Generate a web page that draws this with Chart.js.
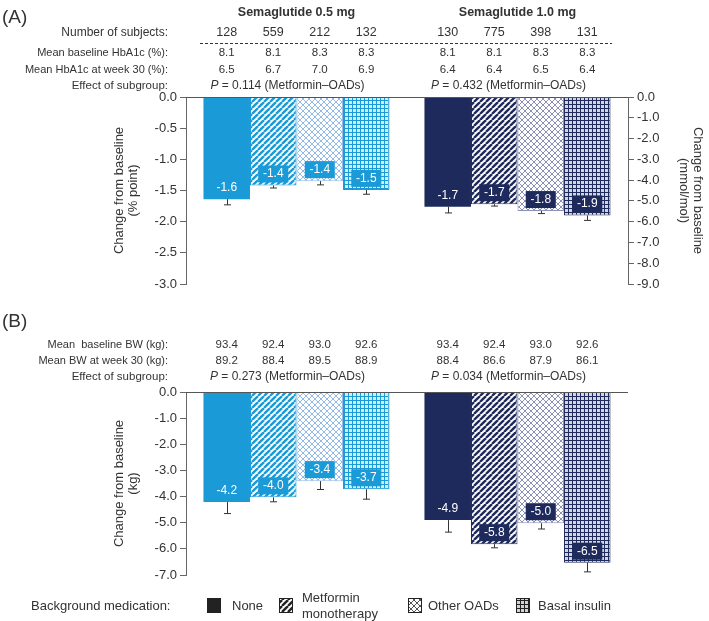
<!DOCTYPE html>
<html>
<head>
<meta charset="utf-8">
<script src="https://cdn.jsdelivr.net/npm/chart.js@4.4.1/dist/chart.umd.min.js"></script>
<style>
  body { margin: 0; background: #fff; }
  #wrap { position: relative; width: 709px; height: 621px; }
  canvas { position: absolute; left: 0; }
</style>
</head>
<body>
<div id="wrap">
  <canvas id="chartA" width="709" height="300" style="top:0"></canvas>
  <canvas id="chartB" width="709" height="321" style="top:300px"></canvas>
</div>
<script>
// bars are ordered: 0.5 mg (None, Metformin, Other OADs, Basal), then 1.0 mg (same order)
var doses = ["Semaglutide 0.5 mg", "Semaglutide 1.0 mg"];
var medications = ["None", "Metformin monotherapy", "Other OADs", "Basal insulin"];

var subjects = ["128", "559", "212", "132", "130", "775", "398", "131"];
var baseHba1c = ["8.1", "8.1", "8.3", "8.3", "8.1", "8.1", "8.3", "8.3"];
var week30Hba1c = ["6.5", "6.7", "7.0", "6.9", "6.4", "6.4", "6.5", "6.4"];
var pHba1c = ["0.114", "0.432"];
var hba1cChange = [-1.64, -1.42, -1.35, -1.49, -1.76, -1.72, -1.83, -1.90];
var hba1cErr = [0.09, 0.04, 0.06, 0.07, 0.10, 0.03, 0.04, 0.08];
var hba1cLabels = ["-1.6", "-1.4", "-1.4", "-1.5", "-1.7", "-1.7", "-1.8", "-1.9"];

var baseBw = ["93.4", "92.4", "93.0", "92.6", "93.4", "92.4", "93.0", "92.6"];
var week30Bw = ["89.2", "88.4", "89.5", "88.9", "88.4", "86.6", "87.9", "86.1"];
var pBw = ["0.273", "0.034"];
var bwChange = [-4.21, -4.03, -3.41, -3.72, -4.90, -5.82, -5.02, -6.53];
var bwErr = [0.44, 0.17, 0.32, 0.38, 0.46, 0.14, 0.22, 0.35];
var bwLabels = ["-4.2", "-4.0", "-3.4", "-3.7", "-4.9", "-5.8", "-5.0", "-6.5"];

var FONT = "'Liberation Sans', Arial, sans-serif";
var BLUE = "#1a9ad6", NAVY = "#1f2a5c";
var LIGHT = { "#1a9ad6": "#93b9e8", "#1f2a5c": "#8a90b6", "#222": "#555" };
var kinds = ["none", "diag", "lattice", "grid"];

Chart.defaults.font.family = FONT;
Chart.defaults.color = "#333";

function makePattern(kind, color) {
  if (kind === "none") return color;
  var s = kind === "grid" ? 4 : kind === "lattice" ? 6 : 6;
  var c = document.createElement("canvas");
  c.width = s; c.height = s;
  var g = c.getContext("2d");
  g.fillStyle = "#fff";
  g.fillRect(0, 0, s, s);
  if (kind === "diag") {
    g.strokeStyle = color;
    g.lineWidth = 2.4;
    for (var k = -1; k <= 1; k++) {
      g.beginPath(); g.moveTo(k * s, s); g.lineTo(k * s + s, 0); g.stroke();
    }
  } else if (kind === "lattice") {
    g.strokeStyle = LIGHT[color];
    g.lineWidth = 1;
    g.beginPath(); g.moveTo(0, 0); g.lineTo(s, s); g.moveTo(0, s); g.lineTo(s, 0); g.stroke();
  } else {
    g.globalAlpha = 0.2;
    g.fillStyle = color;
    g.fillRect(0, 0, s, s);
    g.globalAlpha = 1;
    g.fillStyle = color;
    g.fillRect(0, 0, 1, s);
    g.fillRect(0, 0, s, 1);
  }
  return g.createPattern(c, "repeat");
}

function makeDatasets(values) {
  return medications.map(function (m, i) {
    return {
      label: m,
      data: [values[i], values[i + 4]],
      backgroundColor: [makePattern(kinds[i], BLUE), makePattern(kinds[i], NAVY)],
      borderColor: kinds[i] === "lattice" ? [LIGHT[BLUE], LIGHT[NAVY]] : [BLUE, NAVY],
      borderWidth: kinds[i] === "none" ? 0 : 1,
      categoryPercentage: 0.842,
      barPercentage: 1
    };
  });
}

function barAt(chart, k) {
  return chart.getDatasetMeta(k % 4).data[Math.floor(k / 4)];
}

function text(ctx, str, x, y, size, align, style, color) {
  ctx.font = (style || "") + " " + size + "px " + FONT;
  ctx.textAlign = align;
  ctx.textBaseline = "middle";
  ctx.fillStyle = color || "#333";
  ctx.fillText(str, x, y);
}

function pValue(ctx, p, cx, y) {
  var rest = " = " + p + " (Metformin\u2013OADs)";
  ctx.font = "italic 12px " + FONT;
  var w1 = ctx.measureText("P").width;
  ctx.font = "12px " + FONT;
  var w2 = ctx.measureText(rest).width;
  var x0 = cx - (w1 + w2) / 2;
  text(ctx, "P", x0, y, 12, "left", "italic");
  text(ctx, rest, x0 + w1, y, 12, "left");
}

function groupCenter(chart, d) {
  return (barAt(chart, d * 4).x + barAt(chart, d * 4 + 3).x) / 2;
}

function drawMarks(chart, values, errs, labels) {
  var ctx = chart.ctx, ys = chart.scales.y, area = chart.chartArea;
  ctx.save();
  // zero line
  var y0 = Math.round(ys.getPixelForValue(0)) + 0.5;
  ctx.strokeStyle = "#555";
  ctx.lineWidth = 1;
  ctx.beginPath(); ctx.moveTo(area.left, y0); ctx.lineTo(area.right, y0); ctx.stroke();
  for (var k = 0; k < 8; k++) {
    var bar = barAt(chart, k);
    var yEnd = ys.getPixelForValue(values[k] - errs[k]);
    var x = Math.round(bar.x) + 0.5;
    ctx.strokeStyle = "#333";
    ctx.beginPath();
    ctx.moveTo(x, bar.y); ctx.lineTo(x, yEnd);
    ctx.moveTo(x - 3.5, yEnd); ctx.lineTo(x + 3.5, yEnd);
    ctx.stroke();
    ctx.fillStyle = k < 4 ? BLUE : NAVY;
    ctx.fillRect(bar.x - 15, bar.y - 20, 30, 17);
    text(ctx, labels[k], bar.x, bar.y - 11.5, 12, "center", "", "#fff");
  }
  ctx.restore();
}

function drawRows(chart, rows) {
  var ctx = chart.ctx;
  rows.forEach(function (r) {
    text(ctx, r.label, 168, r.y, r.size, "right");
    if (r.values) {
      for (var k = 0; k < 8; k++) text(ctx, r.values[k], barAt(chart, k).x, r.y, r.vsize || r.size, "center");
    }
    if (r.p) {
      for (var d = 0; d < 2; d++) pValue(ctx, r.p[d], groupCenter(chart, d) - 9, r.y);
    }
  });
}

function swatch(ctx, kind, x, y) {
  ctx.fillStyle = makePattern(kind, "#222");
  ctx.fillRect(x, y, 14, 15);
  ctx.strokeStyle = "#222";
  ctx.lineWidth = 1;
  ctx.strokeRect(x + 0.5, y + 0.5, 13, 14);
}

var yTick = function (v) { return v.toFixed(1); };

new Chart(document.getElementById("chartA"), {
  type: "bar",
  data: { labels: doses, datasets: makeDatasets(hba1cChange) },
  options: {
    responsive: false,
    animation: false,
    layout: { padding: { top: 97, bottom: 16, left: 0, right: 0 } },
    plugins: { legend: { display: false }, tooltip: { enabled: false } },
    scales: {
      x: { display: false },
      y: {
        position: "left", min: -3, max: 0,
        ticks: { stepSize: 0.5, callback: yTick, font: { size: 13 }, color: "#333", padding: 3 },
        grid: { drawOnChartArea: false, tickLength: 6, color: "#666" },
        border: { color: "#666" },
        title: { display: true, text: ["Change from baseline", "(% point)"], color: "#333",
                 font: { size: 13, lineHeight: 1.1 }, padding: { top: 112, bottom: 0 } },
        afterFit: function (s) { s.width = 186; }
      },
      y2: {
        position: "right", min: -9, max: 0,
        ticks: { stepSize: 1, callback: yTick, font: { size: 13 }, color: "#333", padding: 3 },
        grid: { drawOnChartArea: false, tickLength: 6, color: "#666" },
        border: { color: "#666" },
        title: { display: true, text: ["Change from baseline", "(mmol/mol)"], color: "#333",
                 font: { size: 13, lineHeight: 1.1 }, padding: { top: 4, bottom: 0 } },
        afterFit: function (s) { s.width = 81; }
      }
    }
  },
  plugins: [{
    id: "panelA",
    afterDatasetsDraw: function (chart) { drawMarks(chart, hba1cChange, hba1cErr, hba1cLabels); },
    afterDraw: function (chart) {
      var ctx = chart.ctx;
      text(ctx, "(A)", 2, 18, 19, "left");
      for (var d = 0; d < 2; d++) text(ctx, doses[d], groupCenter(chart, d), 13, 12.5, "center", "bold");
      drawRows(chart, [
        { label: "Number of subjects:", values: subjects, y: 33, size: 12, vsize: 12.5 },
        { label: "Mean baseline HbA1c (%):", values: baseHba1c, y: 53, size: 11, vsize: 11.5 },
        { label: "Mean HbA1c at week 30 (%):", values: week30Hba1c, y: 70, size: 11, vsize: 11.5 },
        { label: "Effect of subgroup:", p: pHba1c, y: 86, size: 11.5 }
      ]);
      ctx.save();
      ctx.strokeStyle = "#333";
      ctx.setLineDash([3, 2]);
      ctx.beginPath(); ctx.moveTo(200, 43.5); ctx.lineTo(612, 43.5); ctx.stroke();
      ctx.restore();
    }
  }]
});

new Chart(document.getElementById("chartB"), {
  type: "bar",
  data: { labels: doses, datasets: makeDatasets(bwChange) },
  options: {
    responsive: false,
    animation: false,
    layout: { padding: { top: 92, bottom: 46, left: 0, right: 81 } },
    plugins: { legend: { display: false }, tooltip: { enabled: false } },
    scales: {
      x: { display: false },
      y: {
        position: "left", min: -7, max: 0,
        ticks: { stepSize: 1, callback: yTick, font: { size: 13 }, color: "#333", padding: 3 },
        grid: { drawOnChartArea: false, tickLength: 6, color: "#666" },
        border: { color: "#666" },
        title: { display: true, text: ["Change from baseline", "(kg)"], color: "#333",
                 font: { size: 13, lineHeight: 1.1 }, padding: { top: 112, bottom: 0 } },
        afterFit: function (s) { s.width = 186; }
      }
    }
  },
  plugins: [{
    id: "panelB",
    afterDatasetsDraw: function (chart) { drawMarks(chart, bwChange, bwErr, bwLabels); },
    afterDraw: function (chart) {
      var ctx = chart.ctx;
      text(ctx, "(B)", 2, 22, 19, "left");
      drawRows(chart, [
        { label: "Mean  baseline BW (kg):", values: baseBw, y: 45, size: 11, vsize: 11.5 },
        { label: "Mean BW at week 30 (kg):", values: week30Bw, y: 61, size: 11, vsize: 11.5 },
        { label: "Effect of subgroup:", p: pBw, y: 77, size: 11.5 }
      ]);
      // legend
      text(ctx, "Background medication:", 31, 306, 13, "left");
      swatch(ctx, "none", 207, 298);
      text(ctx, "None", 232, 306, 13, "left");
      swatch(ctx, "diag", 279, 298);
      text(ctx, "Metformin", 302, 298, 13, "left");
      text(ctx, "monotherapy", 302, 314, 13, "left");
      swatch(ctx, "lattice", 408, 298);
      text(ctx, "Other OADs", 428, 306, 13, "left");
      swatch(ctx, "grid", 516, 298);
      text(ctx, "Basal insulin", 538, 306, 13, "left");
    }
  }]
});
</script>
</body>
</html>
